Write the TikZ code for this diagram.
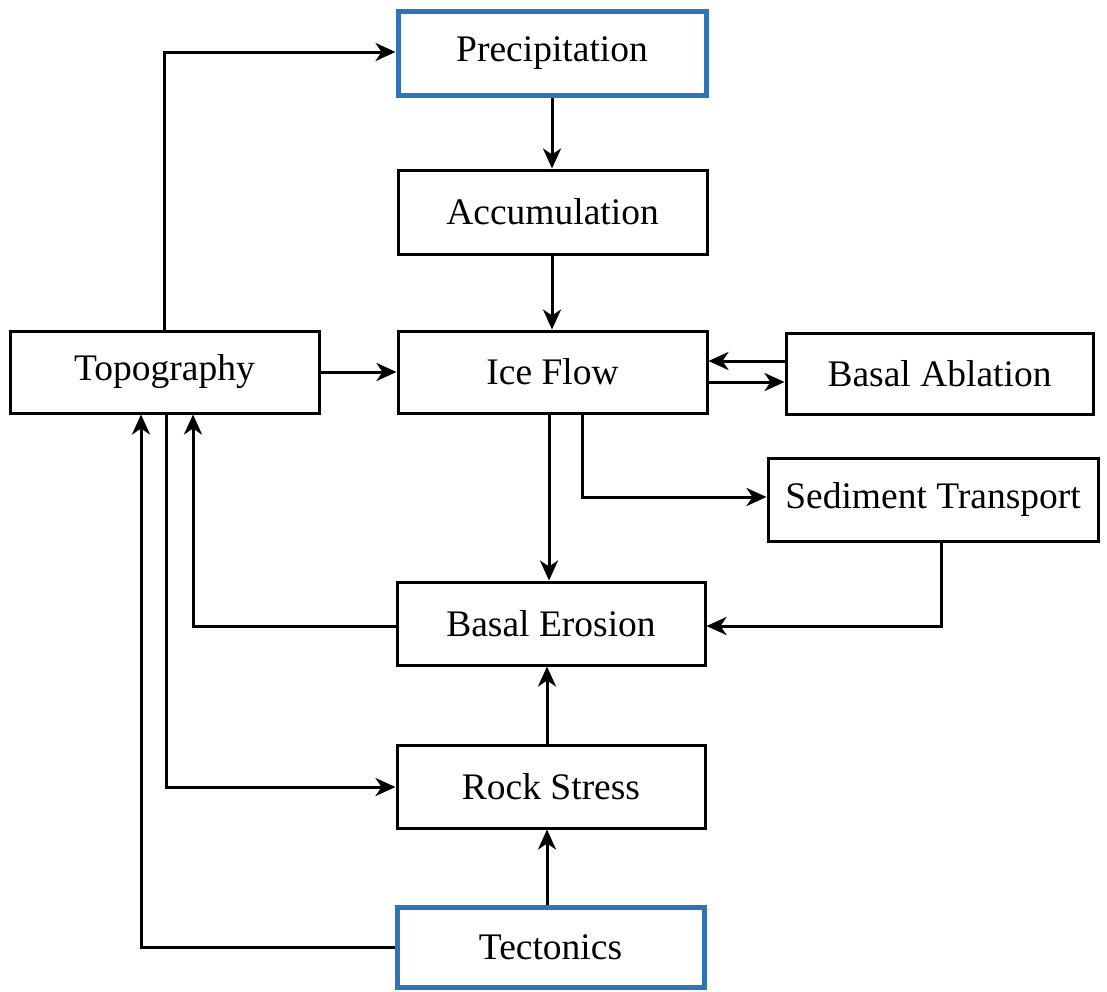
\documentclass[tikz,border=0pt]{standalone}
\usepackage{fontspec}
\setmainfont{Liberation Serif}
\usetikzlibrary{arrows.meta}
\definecolor{bblue}{RGB}{46,117,182}
\begin{document}
\begin{tikzpicture}[x=1pt,y=-1pt,
  box/.style={draw=black,line width=3pt,fill=white,inner sep=0pt,font=\fontsize{37.5}{45}\selectfont},
  bluebox/.style={box,draw=bblue,line width=5pt},
  arr/.style={line width=3pt,-{Stealth[length=20pt,width=18pt,inset=6pt]}},
  ln/.style={line width=3pt}]
\useasboundingbox (0,0) rectangle (1107,991);
\node[bluebox,minimum width=308pt,minimum height=84pt] (prec) at (552,53) {Precipitation};
\node[box,minimum width=309pt,minimum height=84pt] (acc) at (552.5,212) {Accumulation};
\node[box,minimum width=309pt,minimum height=82pt] (topo) at (164.5,372) {Topography};
\node[box,minimum width=309pt,minimum height=82pt] (ice) at (552.5,372) {Ice Flow};
\node[box,minimum width=307pt,minimum height=81pt] (abl) at (939.5,373.5) {Basal Ablation};
\node[box,minimum width=330pt,minimum height=83pt] (sed) at (933,499.5) {Sediment Transport};
\node[box,minimum width=308pt,minimum height=83pt] (ero) at (551,623.5) {Basal Erosion};
\node[box,minimum width=308pt,minimum height=83pt] (rock) at (551,786.5) {Rock Stress};
\node[bluebox,minimum width=307pt,minimum height=80pt] (tect) at (550.5,947) {Tectonics};

\draw[arr] (topo.north) -- (164.5,52) -- (prec.west |- 0,52);
\draw[arr] (prec.south -| 552,0) -- (acc.north -| 552,0);
\draw[arr] (acc.south -| 552,0) -- (ice.north -| 552,0);
\draw[arr] (topo.east) -- (ice.west);
\draw[arr] (abl.west |- 0,361) -- (ice.east |- 0,361);
\draw[arr] (ice.east |- 0,382) -- (abl.west |- 0,382);
\draw[arr] (ice.south -| 549,0) -- (ero.north -| 549,0);
\draw[arr] (ice.south -| 582,0) -- (582,497) -- (sed.west |- 0,497);
\draw[arr] (sed.south -| 941,0) -- (941,626) -- (ero.east |- 0,626);
\draw[arr] (ero.west |- 0,626) -- (193,626) -- (topo.south -| 193,0);
\draw[arr] (topo.south -| 166,0) -- (166,787) -- (rock.west |- 0,787);
\draw[arr] (rock.north -| 547,0) -- (ero.south -| 547,0);
\draw[arr] (tect.north -| 547,0) -- (rock.south -| 547,0);
\draw[arr] (tect.west |- 0,947) -- (141,947) -- (topo.south -| 141,0);
\end{tikzpicture}
\end{document}
